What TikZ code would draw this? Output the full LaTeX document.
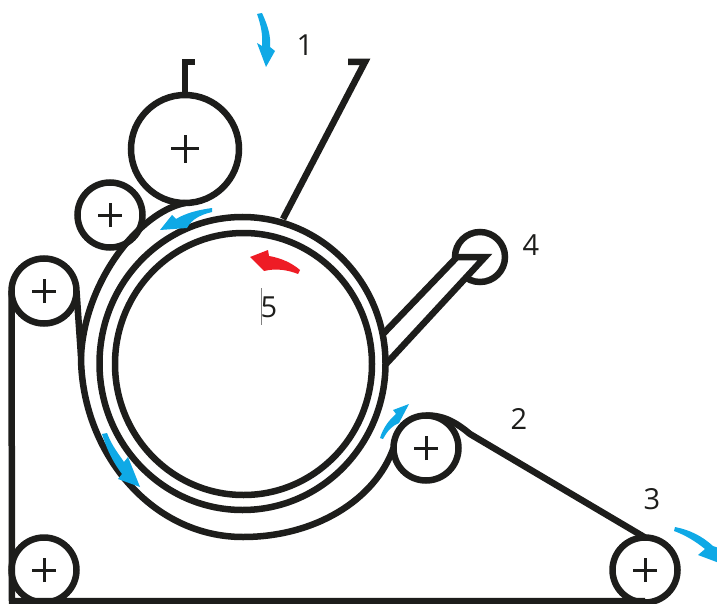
\documentclass[tikz,border=0pt]{standalone}
\usepackage{fontspec}
\setmainfont{Open Sans}
\usetikzlibrary{shapes.geometric}
\definecolor{inkdark}{HTML}{1D1D1B}
\definecolor{flowblue}{HTML}{0FA9E6}
\definecolor{flowred}{HTML}{EE1C25}
\tikzset{
  roll/.style={circle,draw=inkdark,line width=6.5pt,fill=white,outer sep=0pt,inner sep=0pt,minimum size=#1},
  crossed/.style={path picture={
    \draw[inkdark,line width=3pt] (path picture bounding box.center) ++(-#1,0) -- ++(2*#1,0);
    \draw[inkdark,line width=3pt] (path picture bounding box.center) ++(0,-#1) -- ++(0,2*#1);}},
  ring/.style={ellipse,draw=inkdark,line width=6.5pt,outer sep=0pt,inner sep=0pt},
  belt/.style={draw=inkdark,line width=6.5pt,line join=miter},
  num/.style={font=\fontsize{29}{30}\selectfont,text=inkdark,inner sep=0pt},
}
\begin{document}
\begin{tikzpicture}[x=1pt,y=-1pt]
\useasboundingbox (0,0) rectangle (717,604);
% rollers
\node[roll=108pt,crossed=14pt] (rollbig) at (185,149) {};
\node[roll=65pt,crossed=12pt] (rollsmall) at (110,215) {};
\node[roll=65pt,crossed=12pt] (rolltop) at (44,291) {};
\node[roll=65pt,crossed=12pt] (rollbot) at (44,570) {};
\node[roll=65pt,crossed=12pt] (rollnip) at (426,448) {};
\node[roll=65pt,crossed=12pt] (rollend) at (645,570) {};
\node[roll=50pt] (rollfour) at (480,257) {};
% hoppers
\coordinate (hopa) at (185,62);
\coordinate (hopb) at (195,62);
\coordinate (hopc) at (365,62);
\coordinate (hopd) at (348,62);
\coordinate (hope) at (283,219);
\draw[belt] (rollbig.north) -- (hopa) -- (hopb);
\draw[belt] (hope) -- (hopc) -- (hopd);
\coordinate (arma) at (384,333);
\coordinate (armb) at (457,257);
\coordinate (armc) at (485,257);
\coordinate (armd) at (386,364);
\fill[white] (arma) -- (armb) -- (armc) -- (armd) -- cycle;
\draw[belt] (arma) -- (armb) -- (armc) -- (armd);
% drum
\node[ring,minimum width=286pt,minimum height=293pt] (ringout) at (242.5,363.5) {};
\node[ring,minimum width=257pt,minimum height=262pt] (ringin) at (243.5,364) {};
% web
\coordinate (beltleft) at (81,356);
\coordinate (beltlow) at (243,537);
\coordinate (beltknee) at (470,434);
\coordinate (beltcorner) at (12,601);
\coordinate (beltfoot) at (645,601);
\draw[belt] (rollbig.south) .. controls (140,212) and (85,280) .. (beltleft);
\draw[belt] (rolltop.east) -- (beltleft);
\draw[belt] (beltleft) .. controls (81,450) and (150,537) .. (beltlow)
  .. controls (315,537) and (375,500) .. (rollnip.west);
\draw[belt] (rollnip.north) .. controls (445,415) and (458,424) .. (beltknee) -- (rollend.north);
\draw[belt] (rolltop.west) -- (beltcorner) -- (beltfoot);
% direction arrows
\fill[flowblue] (257,14) -- (262,13) .. controls (268,26) and (271,36) .. (270,47) -- (275,51) -- (266,67) -- (257,43) -- (262,46) .. controls (263,36) and (261,25) .. (257,14) -- cycle;
\fill[flowblue] (212,208) -- (212,212) .. controls (200,215) and (192,219) .. (187,228) -- (160,230) -- (172,215) -- (176,219) .. controls (186,213) and (198,210) .. (212,208) -- cycle;
\fill[flowblue] (102,434) -- (107,433) .. controls (112,446) and (118,453) .. (124,462) -- (128,457) -- (140,487) -- (118,479) -- (122,474) .. controls (113,462) and (107,450) .. (102,434) -- cycle;
\fill[flowblue] (380,438) -- (383,439) .. controls (388,430) and (392,426) .. (399,423) -- (409,404) -- (393,410) -- (396,414) .. controls (389,420) and (383,428) .. (380,438) -- cycle;
\fill[flowblue] (674,531) -- (675,527) .. controls (690,530) and (702,536) .. (713,546) -- (725,550) -- (730,567) -- (698,555) -- (705,549) .. controls (695,541) and (685,535) .. (674,531) -- cycle;
\fill[flowred] (300,270) -- (298,274) .. controls (288,270) and (276,268) .. (264,271) -- (250,257) -- (268,250) -- (269,256) .. controls (281,258) and (292,263) .. (300,270) -- cycle;
% labels
\node[num] (numone) at (305,45) {1};
\node[num] (numtwo) at (519,419) {2};
\node[num] (numthree) at (652,499) {3};
\node[num] (numfour) at (531,245) {4};
\node[num] (numfive) at (269,307) {5};
\draw[gray,line width=1pt] (261,288) -- (261,325);
\end{tikzpicture}
\end{document}
